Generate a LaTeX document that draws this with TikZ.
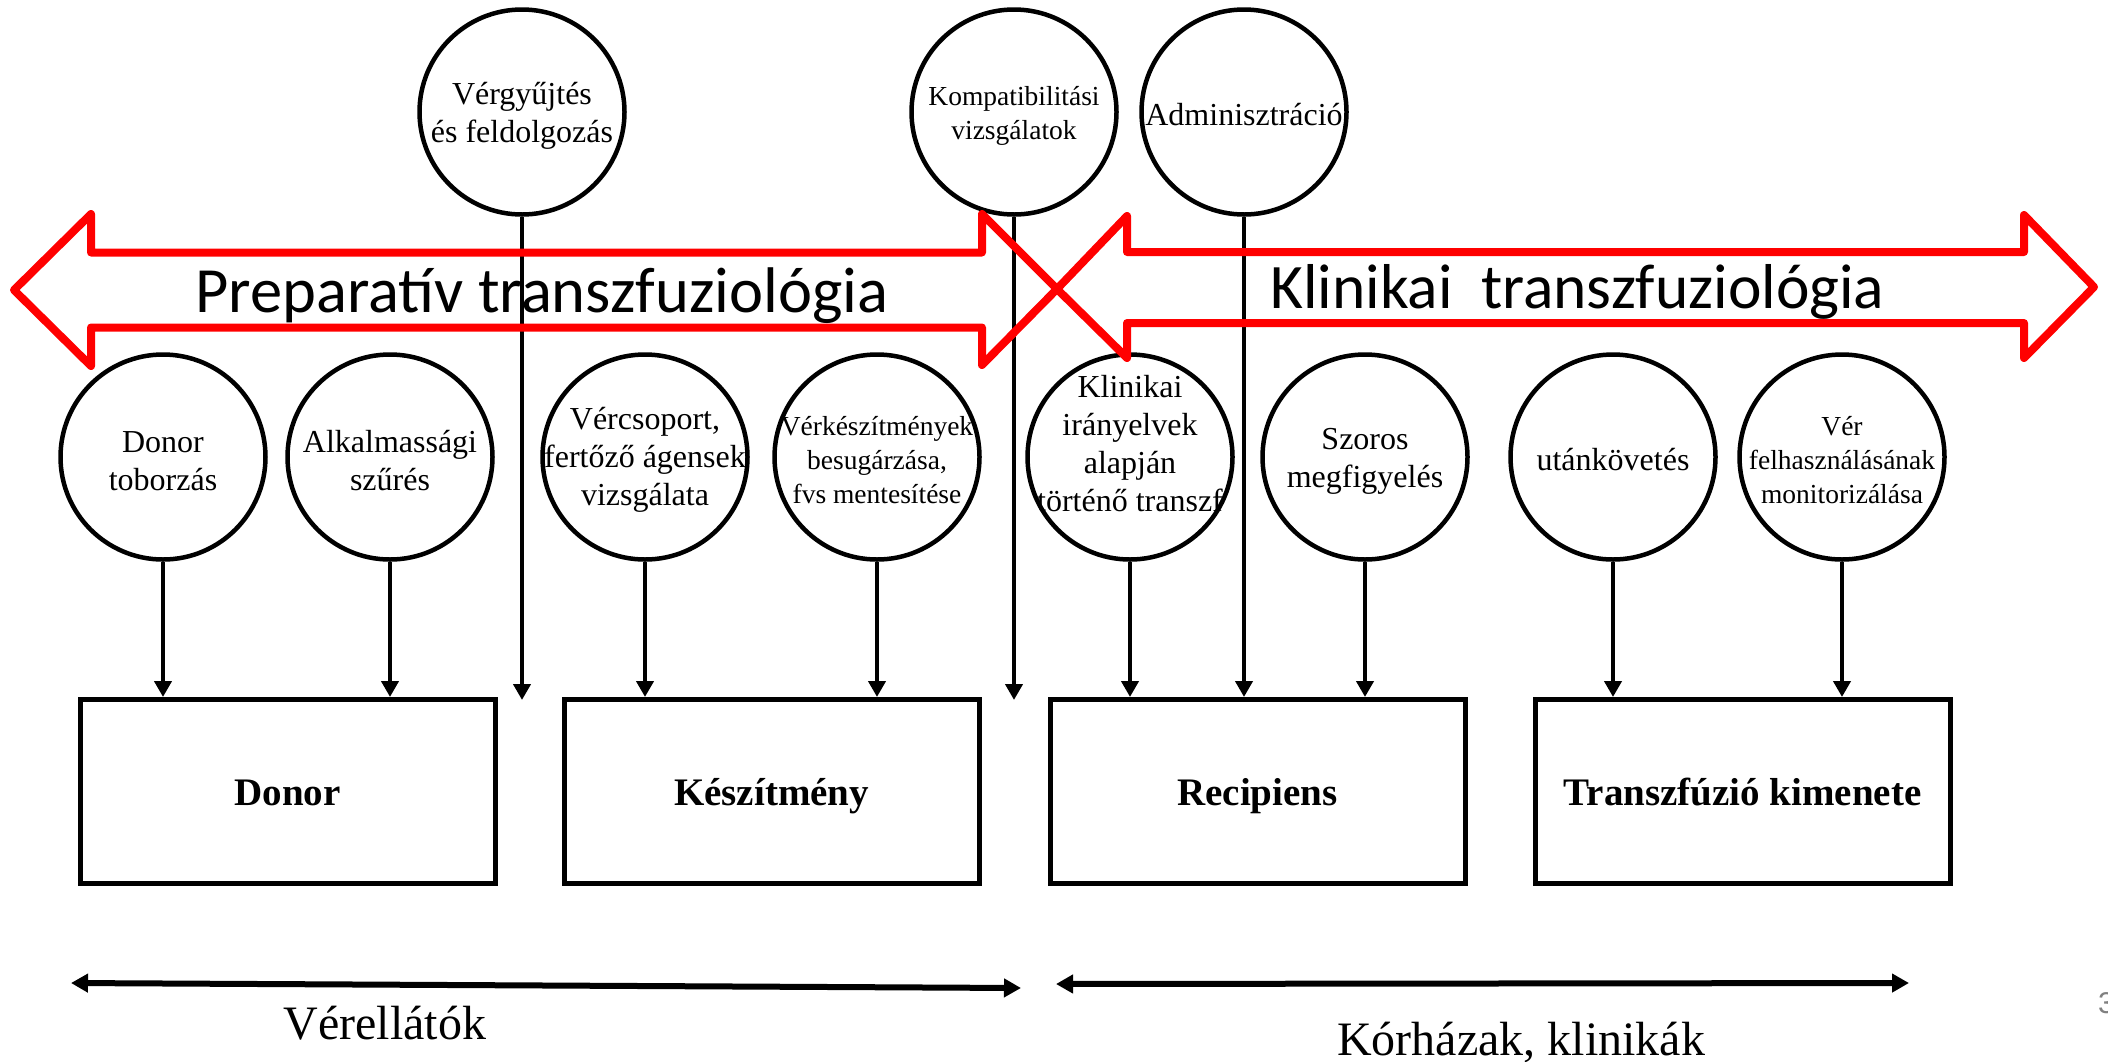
\documentclass[tikz,border=0pt]{standalone}
\usepackage{fontspec}
\setmainfont{Liberation Serif}
\newfontfamily\calibri{Carlito}
\newfontfamily\arialf{Liberation Sans}
\usetikzlibrary{arrows.meta}
\begin{document}
\begin{tikzpicture}[x=1pt,y=-1pt,
  circ/.style={draw, circle, line width=4.5pt, minimum size=205pt, inner sep=0pt},
  ctxt/.style={align=center, inner sep=0pt, font=\fontsize{32}{38}\selectfont},
  csmall/.style={align=center, inner sep=0pt, font=\fontsize{27.5}{34}\selectfont},
  box/.style={draw, line width=5pt, minimum width=415pt, minimum height=184pt, inner sep=0pt, text height=27pt, text depth=0pt, font=\fontsize{39}{45}\selectfont\bfseries},
  conn/.style={line width=4.5pt, -{Triangle[length=16pt,width=17pt]}},
  band/.style={draw=red, line width=8pt, line join=round, line cap=round},
  bandtext/.style={anchor=base west, inner sep=0pt},
  span/.style={line width=6pt, {Triangle[length=17pt,width=18pt]}-{Triangle[length=17pt,width=18pt]}},
  spantext/.style={font=\fontsize{48}{54}\selectfont, anchor=base, inner sep=0pt}
]
\useasboundingbox (0,0) rectangle (2108,1061);

% circles
\node[circ] (cv) at (522,112) {};
\node[circ] (ck) at (1014,112) {};
\node[circ] (ca) at (1244,112) {};
\node[circ] (c1) at (163,457) {};
\node[circ] (c2) at (390,457) {};
\node[circ] (c3) at (645,457) {};
\node[circ] (c4) at (877,457) {};
\node[circ] (c5) at (1130,457) {};
\node[circ] (c6) at (1365,457) {};
\node[circ] (c7) at (1613,457) {};
\node[circ] (c8) at (1842,457) {};

% circle texts
\node[ctxt] (tv) at ([yshift=-4pt]cv) {Vérgyűjtés\\és feldolgozás};
\node[csmall] (tk) at ([yshift=-4pt]ck) {Kompatibilitási\\vizsgálatok};
\node[ctxt] (ta) at ([yshift=-3pt]ca) {Adminisztráció};
\node[ctxt] (t1) at ([yshift=-4pt]c1) {Donor\\toborzás};
\node[ctxt] (t2) at ([yshift=-4pt]c2) {Alkalmassági\\szűrés};
\node[ctxt] (t3) at ([yshift=-3pt]c3) {Vércsoport,\\fertőző ágensek\\vizsgálata};
\node[csmall] (t4) at ([yshift=-3pt]c4) {Vérkészítmények\\besugárzása,\\fvs mentesítése};
\node[ctxt] (t5) at ([yshift=13pt]c5) {Klinikai\\irányelvek\\alapján\\történő transzf};
\node[ctxt] (t6) at ([yshift=-4pt]c6) {Szoros\\megfigyelés};
\node[ctxt] (t7) at ([yshift=-3pt]c7) {utánkövetés};
\node[csmall] (t8) at ([yshift=-3pt]c8) {Vér\\felhasználásának\\monitorizálása};

% boxes
\node[box] (bd) at (287.5,791.5) {Donor};
\node[box] (bk) at (771.5,791.5) {Készítmény};
\node[box] (br) at (1257.5,791.5) {Recipiens};
\node[box] (bt) at (1742.5,791.5) {Transzfúzió kimenete};

% connectors
\coordinate (ev) at (522,700);
\coordinate (ek) at (1014,700);
\draw[conn] (cv.south) -- (ev);
\draw[conn] (ck.south) -- (ek);
\draw[conn] (ca.south) -- (ca.south |- br.north);
\draw[conn] (c1.south) -- (c1.south |- bd.north);
\draw[conn] (c2.south) -- (c2.south |- bd.north);
\draw[conn] (c3.south) -- (c3.south |- bk.north);
\draw[conn] (c4.south) -- (c4.south |- bk.north);
\draw[conn] (c5.south) -- (c5.south |- br.north);
\draw[conn] (c6.south) -- (c6.south |- br.north);
\draw[conn] (c7.south) -- (c7.south |- bt.north);
\draw[conn] (c8.south) -- (c8.south |- bt.north);

% red double arrows
\draw[band] (14,290) -- (91,214) -- (91,252.5) -- (982,252.5) -- (982,214) -- (1057,289)
  -- (982,365) -- (982,327.5) -- (91,327.5) -- (91,366) -- cycle;
\draw[band] (1057,289) -- (1127,216) -- (1127,252) -- (2024,252) -- (2024,215) -- (2094,287)
  -- (2024,358) -- (2024,323) -- (1127,323) -- (1127,358) -- cycle;
\node[bandtext, font=\calibri\fontsize{64.5}{70}\selectfont] (pt) at (195,312) {Preparatív transzfuziológia};
\node[bandtext, font=\calibri\fontsize{63.4}{70}\selectfont] (kt) at (1270,308) {Klinikai\hspace{0.45em}transzfuziológia};

% bottom spans
\coordinate (s1a) at (71,983);
\coordinate (s1b) at (1021,988);
\coordinate (s2a) at (1056,984);
\coordinate (s2b) at (1909,983);
\draw[span] (s1a) -- (s1b);
\draw[span] (s2a) -- (s2b);
\node[spantext] (l1) at (385,1039) {Vérellátók};
\node[spantext] (l2) at (1521,1055) {Kórházak, klinikák};

% slide number (cut off at the edge)
\node[font=\arialf\fontsize{30}{30}\selectfont, text=gray, anchor=base west, inner sep=0pt] (pg) at (2098,1013) {3};
\end{tikzpicture}
\end{document}
